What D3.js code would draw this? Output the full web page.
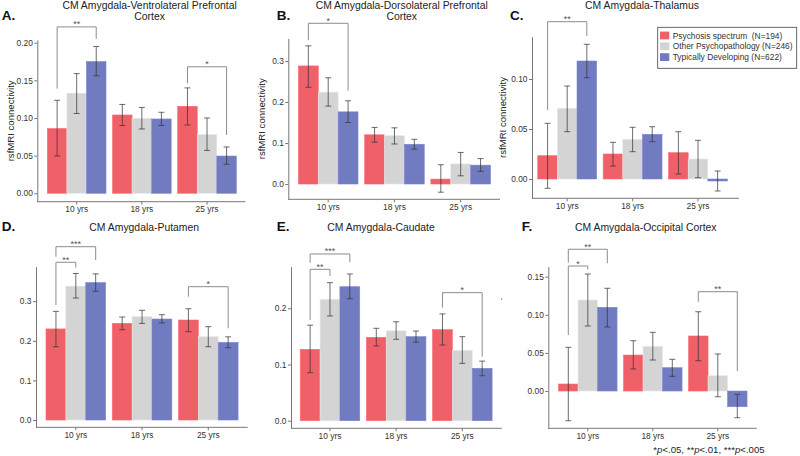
<!DOCTYPE html>
<html>
<head>
<meta charset="utf-8">
<script src="https://cdn.jsdelivr.net/npm/d3@7"></script>
<style>
    body { margin: 0; background: #fff; }
    svg { display: block; font-family: "Liberation Sans", Arial, Helvetica, sans-serif; }
</style>
</head>
<body>
<svg id="chart" width="800" height="456"></svg>
<script>
/*jslint browser: true*/
/*global d3*/

var ageGroups = ['10 yrs', '18 yrs', '25 yrs'];
var dxGroups = ['Psychosis spectrum  (N=194)', 'Other Psychopathology (N=246)', 'Typically Developing (N=622)'];

// values are listed per age group: psychosis, other, typically developing
var vlpfcMean = [0.086, 0.133, 0.175, 0.104, 0.0996, 0.0987, 0.1155, 0.078, 0.0495];
var vlpfcLow = [0.0495, 0.106, 0.156, 0.090, 0.0854, 0.090, 0.0907, 0.057, 0.0385];
var vlpfcHigh = [0.1235, 0.159, 0.195, 0.118, 0.114, 0.1076, 0.140, 0.100, 0.0615];

var dlpfcMean = [0.288, 0.224, 0.176, 0.120, 0.118, 0.097, 0.012, 0.049, 0.046];
var dlpfcLow = [0.236, 0.190, 0.150, 0.102, 0.0976, 0.085, -0.020, 0.020, 0.031];
var dlpfcHigh = [0.337, 0.259, 0.203, 0.138, 0.137, 0.109, 0.047, 0.077, 0.062];

var thalMean = [0.0233, 0.0707, 0.118, 0.025, 0.0397, 0.0447, 0.0263, 0.020, -0.002];
var thalLow = [-0.0093, 0.0473, 0.1013, 0.013, 0.0273, 0.0373, 0.005, 0.0013, -0.012];
var thalHigh = [0.0557, 0.093, 0.1347, 0.0367, 0.0517, 0.0523, 0.0473, 0.0387, 0.008];

var putMean = [0.230, 0.338, 0.347, 0.244, 0.261, 0.255, 0.2525, 0.2104, 0.196];
var putLow = [0.185, 0.308, 0.325, 0.228, 0.244, 0.245, 0.223, 0.185, 0.1826];
var putHigh = [0.2744, 0.370, 0.369, 0.260, 0.277, 0.266, 0.281, 0.2357, 0.210];

var caudMean = [0.127, 0.216, 0.2384, 0.1484, 0.160, 0.1495, 0.162, 0.1253, 0.0932];
var caudLow = [0.0854, 0.1863, 0.217, 0.133, 0.1448, 0.1395, 0.1347, 0.102, 0.080];
var caudHigh = [0.170, 0.2456, 0.261, 0.1644, 0.176, 0.1596, 0.190, 0.1495, 0.106];

var occMean = [0.0092, 0.1194, 0.1098, 0.0472, 0.0587, 0.0306, 0.0722, 0.0201, -0.0206];
var occLow = [-0.039, 0.0853, 0.084, 0.0289, 0.0407, 0.0193, 0.0398, -0.0075, -0.035];
var occHigh = [0.0573, 0.1535, 0.1348, 0.066, 0.077, 0.0416, 0.104, 0.0486, -0.0043];

var vlpfcTicks = [0, 0.05, 0.10, 0.15, 0.20];
var dlpfcTicks = [0, 0.1, 0.2, 0.3];
var thalTicks = [0, 0.05, 0.10];
var putTicks = [0, 0.1, 0.2, 0.3];
var caudTicks = [0, 0.1, 0.2];
var occTicks = [0, 0.05, 0.10, 0.15];

// significance: [age index, from group, to group, label, bracket level, left foot, right foot]
var vlpfcSig = [[0, 0, 2, '**', 0.221, 0.139, 0.205], [2, 0, 2, '*', 0.168, 0.146, 0.0774]];
var dlpfcSig = [[0, 0, 2, '*', 0.392, 0.351, 0.2276]];
var thalSig = [[0, 0, 2, '**', 0.1573, 0.069, 0.143]];
var putSig = [[0, 0, 2, '***', 0.4376, 0.4124, 0.404], [0, 0, 1, '**', 0.3982, 0.2904, 0.3846],
    [2, 0, 2, '*', 0.3366, 0.3114, 0.2316]];
var caudSig = [[0, 0, 2, '***', 0.2966, 0.2811, 0.2819], [0, 0, 1, '**', 0.2694, 0.1792, 0.2575],
    [2, 0, 2, '*', 0.2278, 0.2011, 0.1139]];
var occSig = [[0, 0, 2, '**', 0.186, 0.1684, 0.1676], [0, 0, 1, '*', 0.164, 0.0735, 0.1597],
    [2, 0, 2, '**', 0.1303, 0.1172, 0.0262]];

(function (d3) {
    'use strict';

    var svg = d3.select('#chart'),
        colors = ['#ef6068', '#d4d4d4', '#717bbf'],
        panels;

    panels = [
        {letter: 'A.', lx: 1.7, ly: 20, title: ['CM Amygdala-Ventrolateral Prefrontal', 'Cortex'], tx: 149.6, ty: 9.3,
            mean: vlpfcMean, low: vlpfcLow, high: vlpfcHigh, ticks: vlpfcTicks, fmt: '.2f', sig: vlpfcSig,
            axisX: 37.3, axisRight: 245.3, top: 40, bottom: 201.7, band: [44.1, 239.6],
            domain: [-0.0112, 0.2036], yLabelX: 14},
        {letter: 'B.', lx: 276.7, ly: 19.6, title: ['CM Amygdala-Dorsolateral Prefrontal', 'Cortex'], tx: 401.7, ty: 9.3,
            mean: dlpfcMean, low: dlpfcLow, high: dlpfcHigh, ticks: dlpfcTicks, fmt: '.1f', sig: dlpfcSig,
            axisX: 288.3, axisRight: 500, top: 38.3, bottom: 199.3, band: [295.1, 493.8],
            domain: [-0.0373, 0.3554], yLabelX: 265},
        {letter: 'C.', lx: 510, ly: 20, title: ['CM Amygdala-Thalamus'], tx: 642, ty: 9.3,
            mean: thalMean, low: thalLow, high: thalHigh, ticks: thalTicks, fmt: '.2f', sig: thalSig,
            axisX: 532, axisRight: 739, top: 36.7, bottom: 198.3, band: [534.5, 730.7],
            domain: [-0.0193, 0.1423], yLabelX: 506},
        {letter: 'D.', lx: 1.7, ly: 230.5, title: ['CM Amygdala-Putamen'], tx: 144.2, ty: 230.5,
            mean: putMean, low: putLow, high: putHigh, ticks: putTicks, fmt: '.1f', sig: putSig,
            axisX: 36, axisRight: 247.7, top: 266.7, bottom: 427.3, band: [42.7, 241.4],
            domain: [-0.0184, 0.3871]},
        {letter: 'E.', lx: 276.7, ly: 230.5, title: ['CM Amygdala-Caudate'], tx: 381, ty: 230.5,
            mean: caudMean, low: caudLow, high: caudHigh, ticks: caudTicks, fmt: '.1f', sig: caudSig,
            axisX: 291, axisRight: 501.7, top: 266.7, bottom: 428.3, band: [296.9, 495.4],
            domain: [-0.0135, 0.274]},
        {letter: 'F.', lx: 521.7, ly: 230.5, title: ['CM Amygdala-Occipital Cortex'], tx: 645.8, ty: 230.5,
            mean: occMean, low: occLow, high: occHigh, ticks: occTicks, fmt: '.2f', sig: occSig,
            axisX: 548.3, axisRight: 756.7, top: 266.7, bottom: 428.3, band: [555.3, 750.3],
            domain: [-0.0489, 0.1631]}
    ];

    function drawPanel(p) {
        var g = svg.append('g'),
            y = d3.scaleLinear().domain(p.domain).range([p.bottom, p.top]),
            x0 = d3.scaleBand().domain(ageGroups).range(p.band),
            inner = x0.bandwidth() * 0.05,
            x1 = d3.scaleBand().domain(d3.range(dxGroups.length)).range([0, x0.bandwidth() * 0.9]),
            rows = [],
            yAxis,
            xAxis;

        ageGroups.forEach(function (age, gi) {
            dxGroups.forEach(function (dx, si) {
                var k = gi * dxGroups.length + si;
                rows.push({age: age, si: si, mean: p.mean[k], low: p.low[k], high: p.high[k]});
            });
        });

        function cx(age, si) {
            return x0(age) + inner + x1(si) + x1.bandwidth() / 2;
        }

        // bars
        g.selectAll('.bar')
            .data(rows)
            .enter()
            .append('rect')
            .attr('class', 'bar')
            .attr('x', function (d) { return x0(d.age) + inner + x1(d.si); })
            .attr('width', x1.bandwidth())
            .attr('y', function (d) { return Math.min(y(d.mean), y(0)); })
            .attr('height', function (d) { return Math.abs(y(d.mean) - y(0)); })
            .attr('fill', function (d) { return colors[d.si]; })
            .attr('stroke', function (d) { return d3.color(colors[d.si]).brighter(0.25); })
            .attr('stroke-width', 0.6);

        // error bars
        var eb = g.selectAll('.err')
            .data(rows)
            .enter()
            .append('g')
            .attr('class', 'err')
            .attr('stroke', '#333')
            .attr('stroke-opacity', 0.8)
            .attr('stroke-width', 0.9);
        eb.append('line')
            .attr('x1', function (d) { return cx(d.age, d.si); })
            .attr('x2', function (d) { return cx(d.age, d.si); })
            .attr('y1', function (d) { return y(d.low); })
            .attr('y2', function (d) { return y(d.high); });
        ['low', 'high'].forEach(function (key) {
            eb.append('line')
                .attr('x1', function (d) { return cx(d.age, d.si) - 3; })
                .attr('x2', function (d) { return cx(d.age, d.si) + 3; })
                .attr('y1', function (d) { return y(d[key]); })
                .attr('y2', function (d) { return y(d[key]); });
        });

        // y axis
        yAxis = d3.axisLeft(y)
            .tickValues(p.ticks)
            .tickFormat(d3.format(p.fmt))
            .tickSize(3)
            .tickSizeOuter(0)
            .tickPadding(1.5);
        g.append('g')
            .attr('transform', 'translate(' + p.axisX + ',0)')
            .call(yAxis);

        // x axis
        xAxis = d3.axisBottom(x0).tickSize(3).tickSizeOuter(0).tickPadding(1.8);
        var xg = g.append('g')
            .attr('transform', 'translate(0,' + p.bottom + ')')
            .call(xAxis);
        xg.select('.domain').remove();
        xg.append('line')
            .attr('x1', p.axisX)
            .attr('x2', p.axisRight)
            .attr('stroke', '#777');

        g.selectAll('.domain').attr('stroke', '#777');
        g.selectAll('.tick line').attr('stroke', '#777');
        g.selectAll('.tick text')
            .attr('fill', '#333')
            .style('font-size', '8.4px')
            .style('font-family', '"Liberation Sans", Arial, sans-serif');

        // significance brackets
        p.sig.forEach(function (s) {
            var age = ageGroups[s[0]],
                xa = cx(age, s[1]),
                xb = cx(age, s[2]);
            g.append('path')
                .attr('d', 'M' + xa + ',' + y(s[5]) + 'V' + y(s[4]) + 'H' + xb + 'V' + y(s[6]))
                .attr('fill', 'none')
                .attr('stroke', '#8c8c8c')
                .attr('stroke-width', 1);
            g.append('text')
                .attr('x', (xa + xb) / 2)
                .attr('y', y(s[4]) + 0.5)
                .attr('text-anchor', 'middle')
                .attr('fill', '#555')
                .style('font-size', '9px')
                .text(s[3]);
        });

        // title and panel letter
        p.title.forEach(function (line, i) {
            g.append('text')
                .attr('x', p.tx)
                .attr('y', p.ty + i * 11)
                .attr('text-anchor', 'middle')
                .attr('fill', '#222')
                .style('font-size', '10.4px')
                .text(line);
        });
        g.append('text')
            .attr('x', p.lx)
            .attr('y', p.ly)
            .attr('fill', '#111')
            .style('font-size', '13.5px')
            .style('font-weight', 'bold')
            .text(p.letter);

        if (p.yLabelX) {
            g.append('text')
                .attr('transform', 'translate(' + p.yLabelX + ',' + ((p.top + p.bottom) / 2) + ') rotate(-90)')
                .attr('text-anchor', 'middle')
                .attr('fill', '#222')
                .style('font-size', '9.6px')
                .text('rsfMRI connectivity');
        }
    }

    panels.forEach(drawPanel);

    // legend
    var legend = svg.append('g');
    legend.append('rect')
        .attr('x', 657.7)
        .attr('y', 27.3)
        .attr('width', 139)
        .attr('height', 41)
        .attr('fill', '#fff')
        .attr('stroke', '#444')
        .attr('stroke-width', 0.8);
    dxGroups.forEach(function (name, i) {
        legend.append('rect')
            .attr('x', 660)
            .attr('y', 31.6 + i * 10.8)
            .attr('width', 9.3)
            .attr('height', 7.8)
            .attr('fill', colors[i]);
        legend.append('text')
            .attr('x', 672.7)
            .attr('y', 38.6 + i * 10.8)
            .attr('fill', '#333')
            .style('font-size', '8.4px')
            .style('white-space', 'pre')
            .attr('xml:space', 'preserve')
            .text(name);
    });

    // footnote
    var note = svg.append('text')
        .attr('x', 653.3)
        .attr('y', 452.5)
        .attr('fill', '#222')
        .style('font-size', '9.6px');
    [['*', false], ['p', true], ['<.05, **', false], ['p', true], ['<.01, ***', false], ['p', true], ['<.005', false]]
        .forEach(function (part) {
            note.append('tspan')
                .style('font-style', part[1] ? 'italic' : 'normal')
                .text(part[0]);
        });

    // stray mark next to panel E
    svg.append('circle')
        .attr('cx', 501.7)
        .attr('cy', 299)
        .attr('r', 0.7)
        .attr('fill', '#777');

}(window.d3));
</script>
</body>
</html>
